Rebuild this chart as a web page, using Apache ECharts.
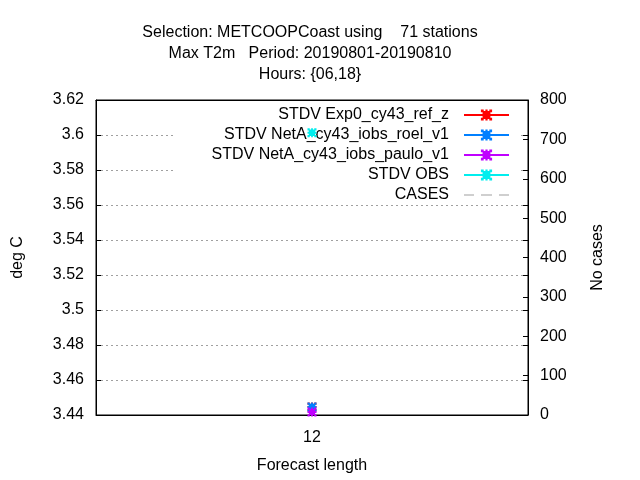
<!DOCTYPE html>
<html>
<head>
<meta charset="UTF-8">
<title>STDV Max T2m</title>
<script src="https://cdn.jsdelivr.net/npm/echarts@6/dist/echarts.min.js"></script>
<style>
html, body { margin: 0; padding: 0; background: #fff; }
#main { width: 640px; height: 480px; }
</style>
</head>
<body>
<div id="main"></div>
<script type="text/javascript">
// forecast lengths on the x axis
var leadTimes = ['12'];
// STDV per experiment (deg C)
var exp0Ref = [3.4446];
var netaRoel = [3.4446];
var netaPaulo = [3.4417];
var stdvObs = [3.6013];
// number of cases (right axis)
var cases = [710];

var seriesNames = [
	'STDV Exp0_cy43_ref_z',
	'STDV NetA_cy43_iobs_roel_v1',
	'STDV NetA_cy43_iobs_paulo_v1',
	'STDV OBS',
	'CASES'
];
var titleLines = [
	'Selection: METCOOPCoast using    71 stations',
	'Max T2m   Period: 20190801-20190810',
	'Hours: {06,18}'
];

// chunky gnuplot-like "*" point
var star = 'path://M1.5,1.5L8.5,1.5L8.5,8.5L1.5,8.5Z' +
	'M4,0L6,0L6,10L4,10ZM0,4L10,4L10,6L0,6Z' +
	'M0,0L2.5,0L2.5,2.5L0,2.5ZM7.5,0L10,0L10,2.5L7.5,2.5Z' +
	'M0,7.5L2.5,7.5L2.5,10L0,10ZM7.5,7.5L10,7.5L10,10L7.5,10Z';
// dashed sample for the CASES key entry
var dashIcon = 'path://M0,0h10v1.2h-10zM17,0h11v1.2h-11zM35,0h10v1.2h-10z';

var font = 'Liberation Sans, Arial, sans-serif';
var fs = 16;
var myChart = echarts.init(document.getElementById('main'));

function stdv(name, data, color) {
	return {
		name: name,
		type: 'line',
		data: data,
		yAxisIndex: 0,
		symbol: star,
		symbolSize: 9,
		z: 6,
		itemStyle: { color: color },
		lineStyle: { color: color, width: 2 }
	};
}

var option = {
	animation: false,
	backgroundColor: '#fff',
	title: {
		text: titleLines.join('\n'),
		left: 305,
		top: 17,
		textAlign: 'center',
		textStyle: { fontFamily: font, fontSize: fs, fontWeight: 'normal', color: '#000', lineHeight: 21 }
	},
	legend: {
		orient: 'vertical',
		right: 122,
		top: 101,
		align: 'right',
		backgroundColor: '#fff',
		padding: [6, 8, 1, 36],
		itemWidth: 45,
		itemHeight: 14,
		itemGap: 4,
		z: 4,
		data: [
			seriesNames[0], seriesNames[1], seriesNames[2], seriesNames[3],
			{ name: seriesNames[4], icon: dashIcon }
		],
		textStyle: { fontFamily: font, fontSize: fs, color: '#000', padding: [0, 10, 0, 0] }
	},
	grid: {
		left: 96, right: 112, top: 100, bottom: 65,
		show: true, borderColor: '#000', borderWidth: 1, backgroundColor: 'transparent'
	},
	xAxis: [{
		type: 'category',
		data: leadTimes,
		position: 'bottom',
		name: 'Forecast length',
		nameLocation: 'middle',
		nameGap: 43,
		nameTextStyle: { fontFamily: font, fontSize: fs, color: '#000' },
		axisLine: { lineStyle: { color: '#000' } },
		axisTick: { inside: true, alignWithLabel: true, length: 5, lineStyle: { color: '#000' } },
		axisLabel: { fontFamily: font, fontSize: fs, color: '#000', margin: 15 },
		splitLine: { show: true, lineStyle: { color: '#a0a0a0', type: [2, 3] } }
	}, {
		type: 'category',
		data: leadTimes,
		position: 'top',
		axisLine: { lineStyle: { color: '#000' } },
		axisTick: { inside: true, alignWithLabel: true, length: 5, lineStyle: { color: '#000' } },
		axisLabel: { show: false }
	}],
	yAxis: [{
		type: 'value',
		min: 3.44, max: 3.62, interval: 0.02,
		position: 'left',
		name: 'deg C',
		nameLocation: 'middle',
		nameGap: 70,
		nameRotate: 90,
		nameTextStyle: { fontFamily: font, fontSize: fs, color: '#000' },
		axisLine: { show: true, lineStyle: { color: '#000' } },
		axisTick: { show: true, inside: true, length: 5, lineStyle: { color: '#000' } },
		axisLabel: {
			fontFamily: font, fontSize: fs, color: '#000', margin: 12,
			formatter: function (v) { return String(+v.toFixed(2)); }
		},
		splitLine: { show: true, lineStyle: { color: '#a0a0a0', type: [2, 3] } }
	}, {
		type: 'value',
		min: 0, max: 800, interval: 100,
		position: 'right',
		name: 'No cases',
		nameLocation: 'middle',
		nameGap: 62,
		nameRotate: 90,
		nameTextStyle: { fontFamily: font, fontSize: fs, color: '#000' },
		axisLine: { show: true, lineStyle: { color: '#000' } },
		axisTick: { show: true, inside: true, length: 5, lineStyle: { color: '#000' } },
		axisLabel: { fontFamily: font, fontSize: fs, color: '#000', margin: 12 },
		splitLine: { show: false }
	}, {
		// mirrored left ticks on the right border
		type: 'value',
		min: 3.44, max: 3.62, interval: 0.02,
		position: 'right',
		axisLine: { show: false },
		axisTick: { show: true, inside: true, length: 5, lineStyle: { color: '#000' } },
		axisLabel: { show: false },
		splitLine: { show: false }
	}],
	series: [
		stdv(seriesNames[0], exp0Ref, '#ff0000'),
		stdv(seriesNames[1], netaRoel, '#0080ff'),
		stdv(seriesNames[2], netaPaulo, '#c000ff'),
		stdv(seriesNames[3], stdvObs, '#00eeee'),
		{
			name: seriesNames[4],
			type: 'line',
			data: cases,
			yAxisIndex: 1,
			showSymbol: false,
			symbol: 'none',
			z: 6,
			itemStyle: { color: '#a0a0a0' },
			lineStyle: { color: '#a0a0a0', width: 1, type: [8, 6] }
		}
	]
};
myChart.setOption(option);
</script>
</body>
</html>
